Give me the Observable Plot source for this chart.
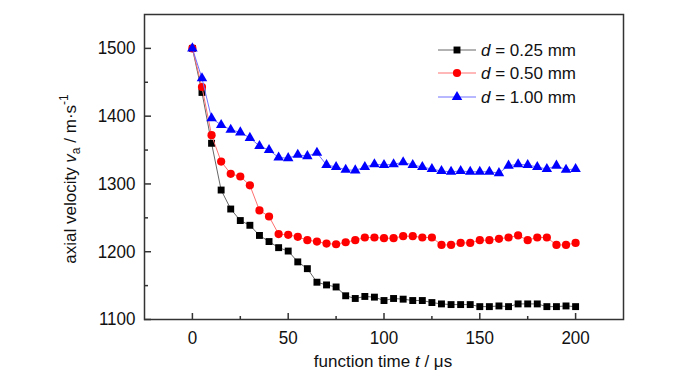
<!DOCTYPE html>
<html>
<head>
<meta charset="utf-8">
<script src="https://cdn.jsdelivr.net/npm/d3@7"></script>
<script src="https://cdn.jsdelivr.net/npm/@observablehq/plot@0.6"></script>
<style>
  html, body { margin: 0; padding: 0; background: #fff; }
  #chart { position: relative; width: 700px; height: 382px; }
</style>
</head>
<body>
<div id="chart"></div>
<script>
const times = [0,5,10,15,20,25,30,35,40,45,50,55,60,65,70,75,80,85,90,95,100,105,110,115,120,125,130,135,140,145,150,155,160,165,170,175,180,185,190,195,200];
const d025 = [1500,1435,1360,1291,1263,1246,1239,1224,1215,1206,1201,1185,1175,1155,1151,1148,1135,1131,1134,1133,1128,1131,1130,1128,1128,1125,1123,1122,1122,1122,1119,1119,1120,1119,1123,1123,1123,1119,1119,1120,1119];
const d050 = [1500,1443,1372,1333,1315,1311,1298,1261,1252,1226,1225,1222,1217,1215,1212,1211,1214,1217,1221,1221,1220,1220,1223,1223,1221,1221,1210,1210,1213,1213,1217,1217,1219,1221,1224,1217,1221,1221,1210,1210,1213];
const d100 = [1500,1456,1397,1387,1380,1376,1368,1356,1350,1339,1338,1343,1341,1346,1328,1325,1321,1320,1325,1329,1328,1329,1332,1328,1325,1322,1319,1318,1319,1318,1318,1318,1316,1327,1329,1328,1325,1322,1327,1321,1322];
const seriesNames = ["0.25", "0.50", "1.00"];
const xMajor = [0, 50, 100, 150, 200];
const xMinor = [25, 75, 125, 175];
const yMajor = [1100, 1200, 1300, 1400, 1500];
const yMinor = [1150, 1250, 1350, 1450];

const styles = [
  {line: "#666666", fill: "#000000", symbol: "square", r: 3.9},
  {line: "#ff7070", fill: "#ff0000", symbol: "circle", r: 4.1},
  {line: "#7070ff", fill: "#0000ff", symbol: "triangle", r: 3.9}
];
const allSeries = [d025, d050, d100];
const tables = allSeries.map(vals => times.map((t, i) => ({t, v: vals[i]})));

const font = "'Liberation Sans', Arial, Helvetica, sans-serif";
const fs = 18.5;
const fsLabel = 17;
const squeeze = 0.92;

const marks = [
  Plot.frame({stroke: "#333", strokeWidth: 1.5}),
  Plot.axisX({ticks: xMajor, tickSize: -6, tickPadding: 17, label: null, tickFormat: d => String(d), stroke: "#333", strokeWidth: 1.5}),
  Plot.axisX({ticks: xMinor, tickSize: -3, text: null, label: null, stroke: "#333", strokeWidth: 1.5}),
  Plot.axisY({ticks: yMajor, tickSize: -7, tickPadding: 16, label: null, tickFormat: d => String(d), stroke: "#333", strokeWidth: 1.5}),
  Plot.axisY({ticks: yMinor, tickSize: -4, text: null, label: null, stroke: "#333", strokeWidth: 1.5})
];
tables.forEach((tab, k) => {
  marks.push(Plot.line(tab, {x: "t", y: "v", stroke: styles[k].line, strokeWidth: 1}));
  marks.push(Plot.dot(tab, {x: "t", y: "v", symbol: () => styles[k].symbol, r: styles[k].r, fill: styles[k].fill, stroke: "none"}));
});

const plot = Plot.plot({
  width: 700, height: 382,
  marginLeft: 144, marginRight: 77, marginTop: 14, marginBottom: 63,
  style: {fontFamily: font, fontSize: fs + "px", color: "#111", background: "#fff", overflow: "visible"},
  x: {domain: [-25, 225]},
  y: {domain: [1100, 1550]},
  symbol: {type: "identity"},
  marks
});
document.getElementById("chart").appendChild(plot);

// condense tick label glyphs horizontally to mimic the narrow typeface of the original
plot.querySelectorAll("text").forEach(el => {
  if (el.querySelector("tspan")) return;
  const w = el.getComputedTextLength();
  if (w > 0) {
    el.setAttribute("textLength", (w * squeeze).toFixed(2));
    el.setAttribute("lengthAdjust", "spacingAndGlyphs");
  }
});

const svg = d3.select(plot);
// x label
const xl = svg.append("text").attr("x", 383).attr("y", 367).attr("text-anchor", "middle")
  .attr("font-family", font).attr("font-size", fsLabel).attr("fill", "#111");
xl.append("tspan").text("function time ");
xl.append("tspan").attr("font-style", "italic").text("t");
xl.append("tspan").text(" / μs");
// y label
const yl = svg.append("text").attr("transform", "translate(76,179) rotate(-90)").attr("text-anchor", "middle")
  .attr("font-family", font).attr("font-size", fsLabel).attr("fill", "#111");
yl.append("tspan").text("axial velocity ");
yl.append("tspan").attr("font-style", "italic").text("v");
yl.append("tspan").attr("font-size", 12).attr("dy", 4).text("a");
yl.append("tspan").attr("dy", -4).text(" / m·s");
yl.append("tspan").attr("font-size", 12).attr("dy", -8).text("-1");

// legend
const leg = svg.append("g");
const rowsY = [50, 73, 97];
seriesNames.forEach((name, k) => {
  const y = rowsY[k];
  leg.append("line").attr("x1", 438).attr("x2", 476).attr("y1", y).attr("y2", y)
    .attr("stroke", styles[k].line).attr("stroke-width", 1);
  const sym = {square: d3.symbolSquare, circle: d3.symbolCircle, triangle: d3.symbolTriangle}[styles[k].symbol];
  leg.append("path").attr("d", d3.symbol(sym, Math.PI * styles[k].r * styles[k].r)())
    .attr("transform", `translate(457,${y})`).attr("fill", styles[k].fill);
  const t = leg.append("text").attr("x", 481).attr("y", y).attr("dy", "0.35em").attr("text-anchor", "start")
    .attr("font-family", font).attr("font-size", fsLabel).attr("fill", "#111");
  t.append("tspan").attr("font-style", "italic").text("d");
  t.append("tspan").text(` = ${name} mm`);
});
</script>
</body>
</html>
